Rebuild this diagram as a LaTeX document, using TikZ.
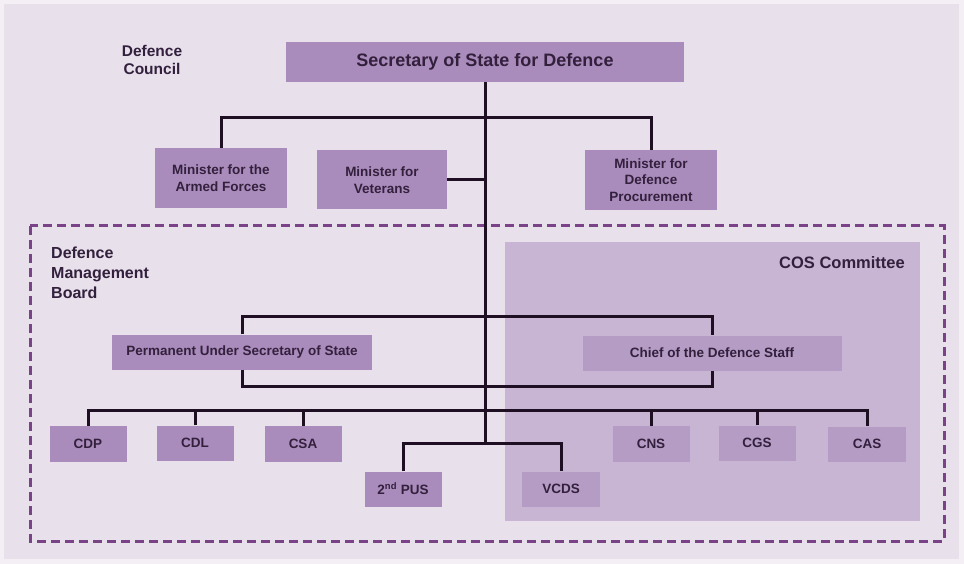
\documentclass[tikz,border=0pt]{standalone}
\usepackage{fontspec}
\setmainfont{Liberation Sans}
\definecolor{outerbg}{HTML}{F3EFF5}
\definecolor{bg}{HTML}{E8E1EC}
\definecolor{cosbg}{HTML}{C8B5D3}
\definecolor{boxA}{HTML}{AA8CBC}
\definecolor{boxB}{HTML}{B59CC5}
\definecolor{ink}{HTML}{33203D}
\definecolor{dashcol}{HTML}{7A4388}
\definecolor{wire}{HTML}{1E1022}
\begin{document}
\begin{tikzpicture}[x=1pt,y=-1pt,
  orgbox/.style={fill=boxA,draw=none,inner sep=1pt,align=center,text=ink,font=\bfseries\fontsize{13.5}{16.5}\selectfont},
  cosbox/.style={orgbox,fill=boxB},
  wirel/.style={draw=wire,line width=3pt},
  lbl/.style={text=ink,font=\bfseries\fontsize{16}{20}\selectfont}]
\fill[outerbg] (0,0) rectangle (964,564);
\fill[bg] (4,4) rectangle (959,559);
\useasboundingbox (0,0) rectangle (964,564);
% COS committee area
\fill[cosbg] (505,242) rectangle (920,521);
\node[lbl,anchor=north east,inner sep=0pt,font=\bfseries\fontsize{16.5}{19}\selectfont] (cosl) at (905,256) {COS Committee};
% dashed board
\draw[dashcol,line width=3pt,dash pattern=on 9pt off 5pt] (30,226) rectangle (944,541);
% labels
\node[lbl,align=center,font=\bfseries\fontsize{15.5}{18}\selectfont] (dc) at (152,60) {Defence\\Council};
\node[lbl,align=left,anchor=north west,inner sep=0pt] (dmb) at (51,247) {Defence\\Management\\Board};
% nodes
\node[orgbox,minimum width=398pt,minimum height=40pt,font=\bfseries\fontsize{18}{20}\selectfont] (sec) at (485,62) {Secretary of State for Defence};
\node[orgbox,minimum width=132pt,minimum height=60pt] (maf) at (221,178) {Minister for the\\Armed Forces};
\node[orgbox,minimum width=130pt,minimum height=59pt] (mv) at (382,180) {Minister for\\Veterans};
\node[orgbox,minimum width=132pt,minimum height=60pt] (mdp) at (651,180) {Minister for\\Defence\\Procurement};
\node[orgbox,minimum width=260pt,minimum height=35pt] (pus) at (242,352) {Permanent Under Secretary of State};
\node[cosbox,minimum width=259pt,minimum height=35pt] (cds) at (712,353) {Chief of the Defence Staff};
\node[orgbox,minimum width=77pt,minimum height=36pt] (cdp) at (88,444) {CDP};
\node[orgbox,minimum width=77pt,minimum height=35pt] (cdl) at (195,443) {CDL};
\node[orgbox,minimum width=77pt,minimum height=36pt] (csa) at (303,444) {CSA};
\node[cosbox,minimum width=77pt,minimum height=36pt] (cns) at (651,444) {CNS};
\node[cosbox,minimum width=77pt,minimum height=35pt] (cgs) at (757,443) {CGS};
\node[cosbox,minimum width=78pt,minimum height=35pt] (cas) at (867,444) {CAS};
\node[orgbox,minimum width=77pt,minimum height=35pt] (pus2) at (403,489) {2\textsuperscript{nd} PUS};
\node[cosbox,minimum width=78pt,minimum height=35pt] (vcds) at (561,489) {VCDS};
% junction coordinates
\coordinate (top) at (485,118);
\coordinate (bar) at (485,410);
\coordinate (low) at (485,443);
% connectors
\draw[wirel] (sec.south) -- (low);
\draw[wirel] (maf.north) |- (top) -| (mdp.north);
\draw[wirel] (mv.east) -- (mv.east -| sec.south);
\draw[wirel] (pus.north) -- ++(0,-18) -| (cds.north);
\draw[wirel] (pus.south) -- ++(0,17) -| (cds.south);
\draw[wirel] (cdp.north) |- (bar) -| (cas.north);
\draw[wirel] (cdl.north) -- (cdl.north |- bar);
\draw[wirel] (csa.north) -- (csa.north |- bar);
\draw[wirel] (cns.north) -- (cns.north |- bar);
\draw[wirel] (cgs.north) -- (cgs.north |- bar);
\draw[wirel] (pus2.north) |- (low) -| (vcds.north);
\end{tikzpicture}
\end{document}
